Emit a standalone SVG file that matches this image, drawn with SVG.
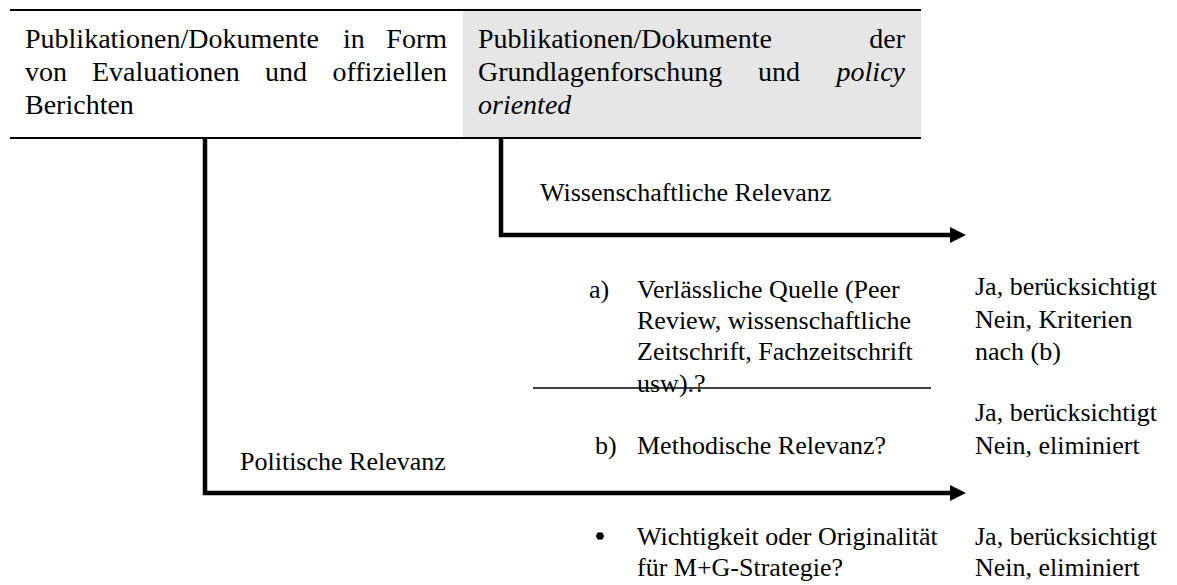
<svg xmlns="http://www.w3.org/2000/svg" width="1177" height="585" viewBox="0 0 1177 585">
<style>
.t{font-family:"Liberation Serif","Times New Roman",serif;font-size:26px;fill:#000}
.h{font-size:28px}
.i{font-style:italic}
.e{text-anchor:end}
.rule{stroke:#000;stroke-width:2;fill:none}
.conn{stroke:#000;stroke-width:4.5;fill:none}
</style>
<defs>
<marker id="ah" markerUnits="userSpaceOnUse" markerWidth="18" markerHeight="18" refX="0" refY="8" orient="auto">
<path d="M0,0 L16,8 L0,16 Z" fill="#000"/>
</marker>
</defs>
<rect x="0" y="0" width="1177" height="585" fill="#fff"/>
<g id="header">
<rect id="cell-right-bg" x="463" y="11" width="458" height="126" fill="#e6e6e6"/>
<line class="rule" x1="10" y1="10" x2="921" y2="10"/>
<line class="rule" x1="10" y1="138" x2="921" y2="138"/>
</g>
<g id="node-evaluationen">
<text class="t h" x="25" y="48">Publikationen/Dokumente</text>
<text class="t h" x="343" y="48">in</text>
<text class="t h e" x="447" y="48">Form</text>
<text class="t h" x="25" y="81">von</text>
<text class="t h" x="92" y="81">Evaluationen</text>
<text class="t h" x="265" y="81">und</text>
<text class="t h e" x="447" y="81">offiziellen</text>
<text class="t h" x="25" y="114">Berichten</text>
</g>
<g id="node-grundlagen">
<text class="t h" x="478" y="48">Publikationen/Dokumente</text>
<text class="t h e" x="905" y="48">der</text>
<text class="t h" x="478" y="81">Grundlagenforschung</text>
<text class="t h" x="758" y="81">und</text>
<text class="t h e i" x="905" y="81">policy</text>
<text class="t h i" x="478" y="114">oriented</text>
</g>
<g id="connectors">
<polyline class="conn" points="501,139 501,235 950,235" marker-end="url(#ah)"/>
<polyline class="conn" points="205,139 205,493 950,493" marker-end="url(#ah)"/>
<line stroke="#000" stroke-width="1.5" x1="533" y1="388" x2="931" y2="388"/>
</g>
<g id="node-wissenschaftlich">
<text class="t" x="540" y="201">Wissenschaftliche Relevanz</text>
</g>
<g id="node-politisch">
<text class="t" x="240" y="470">Politische Relevanz</text>
</g>
<g id="node-a">
<text class="t" x="589" y="298">a)</text>
<text class="t" x="637" y="298">Verlässliche Quelle (Peer</text>
<text class="t" x="637" y="329">Review, wissenschaftliche</text>
<text class="t" x="637" y="360">Zeitschrift, Fachzeitschrift</text>
<text class="t" x="637" y="392">usw).?</text>
</g>
<g id="node-a-result">
<text class="t" x="975" y="295">Ja, berücksichtigt</text>
<text class="t" x="975" y="328">Nein, Kriterien</text>
<text class="t" x="975" y="360">nach (b)</text>
</g>
<g id="node-b">
<text class="t" x="595" y="454">b)</text>
<text class="t" x="637" y="454">Methodische Relevanz?</text>
</g>
<g id="node-b-result">
<text class="t" x="975" y="421">Ja, berücksichtigt</text>
<text class="t" x="975" y="454">Nein, eliminiert</text>
</g>
<g id="node-c">
<circle cx="600" cy="536" r="3.8" fill="#000"/>
<text class="t" x="637" y="545">Wichtigkeit oder Originalität</text>
<text class="t" x="637" y="576">für M+G-Strategie?</text>
</g>
<g id="node-c-result">
<text class="t" x="975" y="545">Ja, berücksichtigt</text>
<text class="t" x="975" y="576">Nein, eliminiert</text>
</g>
</svg>
